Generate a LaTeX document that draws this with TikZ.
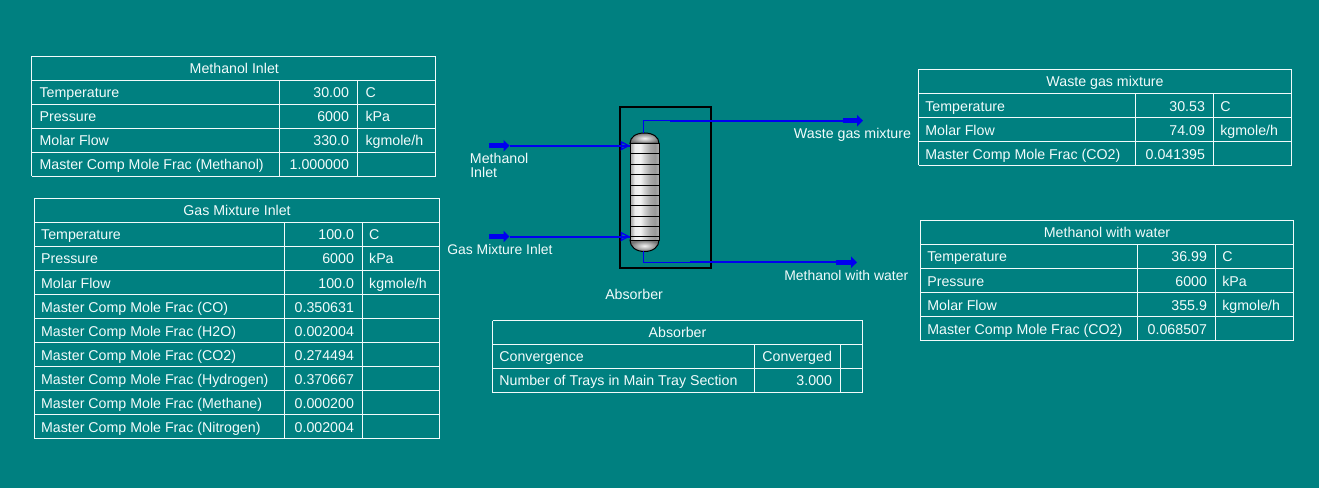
\documentclass[tikz,border=0pt]{standalone}
\usepackage{fontspec}
\setmainfont{Liberation Sans}
\usetikzlibrary{arrows.meta,calc}
\definecolor{bgteal}{HTML}{008080}
\definecolor{txt}{HTML}{F2FBFB}
\definecolor{flow}{HTML}{0000F0}
\definecolor{gA}{HTML}{A8A8A8}
\definecolor{gB}{HTML}{B4B4B4}
\definecolor{gC}{HTML}{ECECEC}
\definecolor{gD}{HTML}{F2F2F2}
\definecolor{gE}{HTML}{D0D0D0}
\definecolor{gF}{HTML}{A8A8A8}
\definecolor{gG}{HTML}{989898}
\definecolor{gH}{HTML}{B0B0B0}
\pgfdeclarehorizontalshading{colshade}{100bp}{
 color(0bp)=(gA); color(25bp)=(gA); color(28bp)=(gB); color(33bp)=(gC); color(43bp)=(gD); color(50bp)=(gE);
 color(60bp)=(gF); color(68bp)=(gG); color(75bp)=(gH); color(100bp)=(gH)}
\tikzset{
 x=0.75pt,y=-0.75pt,
 grid/.style={draw=txt,line width=0.75pt},
 celltext/.style={text=txt,font=\fontsize{10.65}{12}\selectfont,inner sep=0pt},
 lbl/.style={celltext,anchor=base west},
 lblsm/.style={lbl,font=\fontsize{10.45}{12}\selectfont},
 val/.style={celltext,anchor=base east},
 ttl/.style={celltext,anchor=base},
 flowline/.style={draw=flow,line width=1.5pt},
 flowthin/.style={draw=flow,line width=1pt},
 flowbar/.style={draw=flow,line width=3.3pt,-{Triangle[length=4.5pt,width=8.5pt,fill=flow]}},
 inlethead/.style={draw=flow,line width=1pt,-{Triangle[open,length=7pt,width=7pt]}},
 tray/.style={draw=black,line width=0.75pt},
 dome/.style={draw=black,line width=0.75pt,inner color=gD,outer color=black!55},
}
% \tblset{label offset}{first row whose text sits 1px lower}{title shift}
\newcommand{\tblset}[3]{\def\lo{#1}\def\kk{#2}\def\ts{#3}}
% \tbl{name}{x0}{x1}{x2}{x3}{ytop}{title}{rows as label/value/unit}
\newcommand{\kgm}{kgmole/h}
\newcommand{\tbl}[8]{%
 \node[ttl] (#1-t) at ({(#2+#5)/2+\ts},{#6+17}) {#7};
 \draw[grid] (#2,#6) -- (#5,#6);
 \draw[grid] (#2,#6+24) -- (#5,#6+24);
 \foreach \la/\va/\un [count=\i from 1] in {#8}{
  \pgfmathsetmacro{\rt}{#6+24*\i}
  \pgfmathsetmacro{\rb}{#6+24*\i+24}
  \pgfmathsetmacro{\ty}{\rt+17+(\i>=\kk ? 1 : 0)}
  \node[lbl] (#1-l\i) at (#2+\lo,\ty) {\la};
  \node[val] (#1-v\i) at (#4-8.3,\ty) {\va};
  \node[lbl] (#1-u\i) at (#4+\lo,\ty) {\un};
  \draw[grid] (#2,\rb) -- (#5,\rb);
  \draw[grid] (#3,\rt) -- (#3,\rb) (#4,\rt) -- (#4,\rb);
  \xdef\tblend{\rb}
 }
 \draw[grid] (#2,#6) -- (#2,\tblend) (#5,#6) -- (#5,\tblend);
}
\begin{document}
\begin{tikzpicture}
\useasboundingbox[fill=bgteal] (0,0) rectangle (1319,488);

\tblset{7.8}{99}{0.8}
\tbl{mi}{31.5}{279}{357.5}{435.5}{56.5}{Methanol Inlet}{Temperature/30.00/C,Pressure/6000/kPa,Molar Flow/330.0/\kgm,Master Comp Mole Frac (Methanol)/1.000000/{}}
\tblset{6.4}{3}{0}
\tbl{gi}{34.5}{284.5}{362.5}{439.5}{198.5}{Gas Mixture Inlet}{Temperature/100.0/C,Pressure/6000/kPa,Molar Flow/100.0/\kgm,Master Comp Mole Frac (CO)/0.350631/{},Master Comp Mole Frac (H2O)/0.002004/{},Master Comp Mole Frac (CO2)/0.274494/{},Master Comp Mole Frac (Hydrogen)/0.370667/{},Master Comp Mole Frac (Methane)/0.000200/{},Master Comp Mole Frac (Nitrogen)/0.002004/{}}
\tblset{6.6}{1}{0}
\tbl{wg}{918.5}{1135.5}{1213.5}{1291.5}{69.5}{Waste gas mixture}{Temperature/30.53/C,Molar Flow/74.09/\kgm,Master Comp Mole Frac (CO2)/0.041395/{}}
\tblset{6.6}{2}{0}
\tbl{mw}{920.5}{1137.5}{1215.5}{1293.5}{220.5}{Methanol with water}{Temperature/36.99/C,Pressure/6000/kPa,Molar Flow/355.9/\kgm,Master Comp Mole Frac (CO2)/0.068507/{}}
\tblset{6.6}{99}{0}
\tbl{ab}{492.5}{754.5}{840.5}{862.5}{320.5}{Absorber}{Convergence/Converged/{},Number of Trays in Main Tray Section/3.000/{}}

% column
\draw[draw=black,line width=1.5pt] (620,107) rectangle (711,268);
\draw[dome] (630,143.5) .. controls (630,137) and (636,133) .. (644.5,133) .. controls (653,133) and (659,137) .. (659,143.5) -- cycle;
\draw[dome] (630,240) .. controls (630,247) and (636,251.5) .. (644.5,251.5) .. controls (653,251.5) and (659,247) .. (659,240) -- cycle;
\draw[tray,shading=colshade,shading angle=0] (630,143.5) rectangle (659,240);
\foreach \yy in {154,164.3,175,185.3,195.7,206,216.3,226.3,236.7}{\draw[tray] (630,\yy) -- (659,\yy);}

\coordinate (colTop) at (643.3,133);
\coordinate (colBot) at (643.3,251);
\coordinate (feedA) at (630,145.7);
\coordinate (feedB) at (630,236.5);
\coordinate (srcA) at (489,145.7);
\coordinate (srcB) at (489,236.5);
\coordinate (srcAe) at (509.5,145.7);
\coordinate (srcBe) at (509.5,236.5);
\coordinate (wgTurn) at (643.3,120.7);
\coordinate (wgStep) at (670,120.7);
\coordinate (wgBar) at (843,120.7);
\coordinate (wgTip) at (863,120.7);
\coordinate (mwTurn) at (643.3,262.3);
\coordinate (mwStep) at (690,262.3);
\coordinate (mwBar) at (836,262.3);
\coordinate (mwTip) at (857,262.3);

\draw[flowbar] (srcA) -- (srcAe);
\draw[flowbar] (srcB) -- (srcBe);
\draw[flowline] (srcAe) -- (feedA);
\draw[flowline] (srcBe) -- (feedB);
\draw[inlethead] ($(feedA)+(-12,0)$) -- (feedA);
\draw[inlethead] ($(feedB)+(-12,0)$) -- (feedB);
\draw[flowthin] (colTop) -- (wgTurn) -- (wgStep);
\draw[flowline] (wgStep) -- (wgBar);
\draw[flowbar] (wgBar) -- (wgTip);
\draw[flowthin] (colBot) -- (mwTurn) -- (mwStep);
\draw[flowline] (mwStep) -- (mwBar);
\draw[flowbar] (mwBar) -- (mwTip);

\node[lbl] (l1) at (469.7,164) {Methanol};
\node[lbl] (l2) at (470,178) {Inlet};
\node[lblsm] (l3) at (447,254) {Gas Mixture Inlet};
\node[lbl] (l4) at (793.7,138.5) {Waste gas mixture};
\node[lblsm] (l5) at (784,280) {Methanol with water};
\node[lbl] (l6) at (605,299) {Absorber};
\end{tikzpicture}
\end{document}
